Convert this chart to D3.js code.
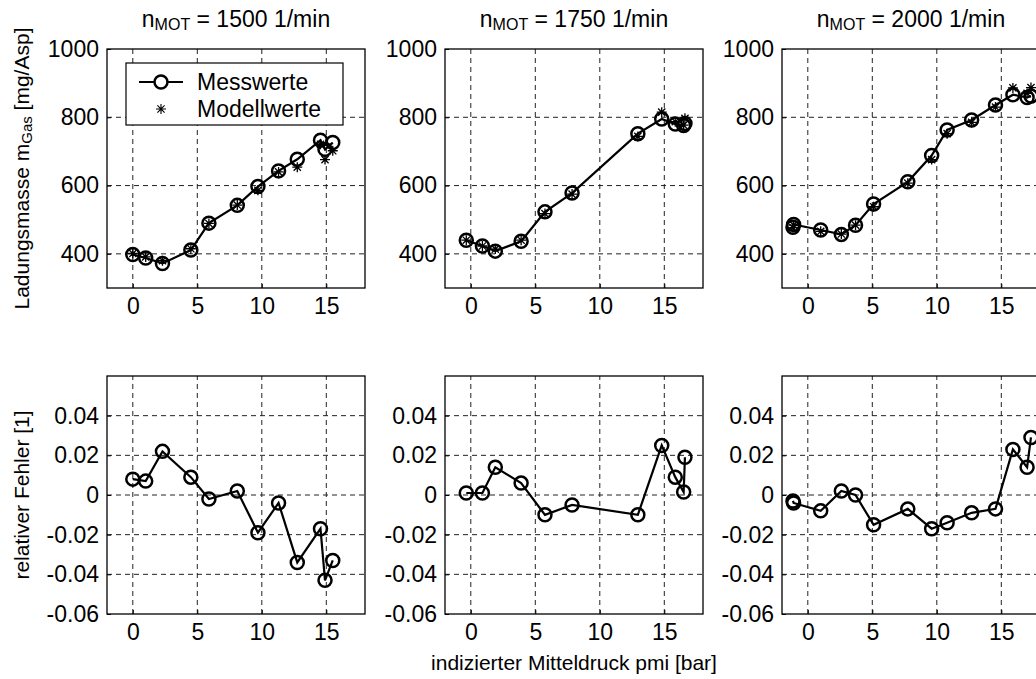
<!DOCTYPE html>
<meta charset="utf-8">
<script src="https://d3js.org/d3.v7.min.js"></script>
<style>
  body { margin: 0; background: #fff; }
  text { font-family: "Liberation Sans", Arial, sans-serif; fill: #000; }
</style>
<div id="my_dataviz"></div>
<script>
// tick values
var xTicks = [0, 5, 10, 15];
var yTicksTop = [400, 600, 800, 1000];
var yTicksBot = [-0.06, -0.04, -0.02, 0, 0.02, 0.04];
var yTickLabelsBot = ["-0.06", "-0.04", "-0.02", "0", "0.02", "0.04"];

// engine speeds (one column per speed)
var speeds = ["1500", "1750", "2000"];

// pmi [bar]
var pmi1500 = [0, 1.0, 2.3, 4.5, 5.9, 8.1, 9.7, 11.3, 12.75, 14.55, 14.9, 15.5];
var pmi1750 = [-0.35, 0.9, 1.9, 3.9, 5.75, 7.85, 12.95, 14.8, 15.85, 16.5, 16.6];
var pmi2000 = [-1.15, -1.1, 1.0, 2.6, 3.7, 5.1, 7.75, 9.6, 10.8, 12.7, 14.55, 15.9, 17.0, 17.3];

// measured charge mass [mg/Asp]
var mess1500 = [398, 388, 372, 411, 490, 542, 597, 643, 677, 733, 706, 726];
var mess1750 = [440, 423, 408, 437, 523, 578, 752, 795, 780, 776, 782];
var mess2000 = [478, 486, 470, 457, 484, 546, 611, 688, 763, 792, 836, 866, 858, 862];

// model charge mass [mg/Asp]
var model1500 = [401, 391, 380, 415, 489, 543, 586, 640, 654, 721, 676, 702];
var model1750 = [440, 423, 414, 440, 518, 575, 744, 815, 787, 777, 797];
var model2000 = [477, 484, 466, 458, 484, 538, 607, 676, 752, 785, 830, 886, 870, 887];

// relative error [1]
var err1500 = [0.008, 0.007, 0.022, 0.009, -0.002, 0.002, -0.019, -0.004, -0.034, -0.017, -0.043, -0.033];
var err1750 = [0.001, 0.001, 0.014, 0.006, -0.010, -0.005, -0.010, 0.025, 0.009, 0.0015, 0.019];
var err2000 = [-0.003, -0.004, -0.008, 0.002, 0.000, -0.015, -0.007, -0.017, -0.014, -0.009, -0.007, 0.023, 0.014, 0.029];

var pmi = [pmi1500, pmi1750, pmi2000];
var mess = [mess1500, mess1750, mess2000];
var model = [model1500, model1750, model2000];
var err = [err1500, err1750, err2000];

var W = 1036, H = 679;
var panelLeft = [107, 445, 782], panelW = 258;
var topRow = [49, 288], botRow = [376, 614];
var fs = 23;

var svg = d3.select("#my_dataviz")
  .append("svg")
    .attr("width", W)
    .attr("height", H);

function starPath(r) {
  var d = r * 0.72;
  return "M0," + (-r) + "V" + r + "M" + (-r) + ",0H" + r +
    "M" + (-d) + "," + (-d) + "L" + d + "," + d + "M" + (-d) + "," + d + "L" + d + "," + (-d);
}

function panel(i, row) {
  var x = d3.scaleLinear().domain([-2, 18]).range([panelLeft[i], panelLeft[i] + panelW]);
  var y = row == 0
    ? d3.scaleLinear().domain([300, 1000]).range([topRow[1], topRow[0]])
    : d3.scaleLinear().domain([-0.06, 0.06]).range([botRow[1], botRow[0]]);
  var yt = row == 0 ? yTicksTop : yTicksBot;
  var y0 = y.range()[0], y1 = y.range()[1];
  var x0 = x.range()[0], x1 = x.range()[1];
  var g = svg.append("g");

  // dashed grid
  g.selectAll(".gx").data(xTicks).enter().append("line")
    .attr("x1", d => x(d)).attr("x2", d => x(d))
    .attr("y1", y0).attr("y2", y1)
    .attr("stroke", "#222").attr("stroke-width", 1).attr("stroke-dasharray", "5,4");
  g.selectAll(".gy").data(yt.filter(d => y(d) > y1 + 1 && y(d) < y0 - 1)).enter().append("line")
    .attr("x1", x0).attr("x2", x1)
    .attr("y1", d => y(d)).attr("y2", d => y(d))
    .attr("stroke", "#222").attr("stroke-width", 1).attr("stroke-dasharray", "5,4");

  // axes with inward ticks
  g.append("g").attr("transform", "translate(0," + y0 + ")")
    .call(d3.axisBottom(x).tickValues(xTicks).tickSizeInner(-4).tickSizeOuter(0).tickPadding(10))
    .call(a => a.select(".domain").remove())
    .selectAll("text").attr("font-size", fs).attr("font-family", "Liberation Sans, Arial");
  g.append("g").attr("transform", "translate(" + x0 + ",0)")
    .call(d3.axisLeft(y).tickValues(yt).tickSizeInner(-4).tickSizeOuter(0).tickPadding(8)
      .tickFormat((d, k) => row == 0 ? d : yTickLabelsBot[k]))
    .call(a => a.select(".domain").remove())
    .selectAll("text").attr("font-size", fs).attr("font-family", "Liberation Sans, Arial");
  g.selectAll(".tick line").attr("stroke", "#000");

  g.append("rect")
    .attr("x", x0).attr("y", y1).attr("width", x1 - x0).attr("height", y0 - y1)
    .attr("fill", "none").attr("stroke", "#000").attr("stroke-width", 1.3);

  var vals = row == 0 ? mess[i] : err[i];
  var pts = pmi[i].map((p, k) => [p, vals[k]]);

  g.append("path")
    .datum(pts)
    .attr("fill", "none").attr("stroke", "#000").attr("stroke-width", 2.2)
    .attr("d", d3.line().x(d => x(d[0])).y(d => y(d[1])));

  g.selectAll(".pt").data(pts).enter().append("circle")
    .attr("cx", d => x(d[0])).attr("cy", d => y(d[1])).attr("r", 6.5)
    .attr("fill", "none").attr("stroke", "#000").attr("stroke-width", 2.5);

  if (row == 0) {
    g.selectAll(".mod").data(pmi[i].map((p, k) => [p, model[i][k]])).enter().append("path")
      .attr("transform", d => "translate(" + x(d[0]) + "," + y(d[1]) + ")")
      .attr("d", starPath(5))
      .attr("fill", "none").attr("stroke", "#000").attr("stroke-width", 1.3);

    // title
    var t = svg.append("text")
      .attr("x", (x0 + x1) / 2).attr("y", 27)
      .attr("text-anchor", "middle").attr("font-size", fs);
    t.append("tspan").text("n");
    t.append("tspan").attr("font-size", 16).attr("dy", 3).text("MOT");
    t.append("tspan").attr("dy", -3).text(" = " + speeds[i] + " 1/min");
  }
}

for (var i = 0; i < 3; i++) { panel(i, 0); panel(i, 1); }

// legend in first panel
var lg = svg.append("g");
lg.append("rect").attr("x", 126).attr("y", 63).attr("width", 217).attr("height", 62)
  .attr("fill", "#fff").attr("stroke", "#000").attr("stroke-width", 1.2);
lg.append("line").attr("x1", 139).attr("x2", 183).attr("y1", 82).attr("y2", 82)
  .attr("stroke", "#000").attr("stroke-width", 2.2);
lg.append("circle").attr("cx", 161).attr("cy", 82).attr("r", 6.5)
  .attr("fill", "#fff").attr("stroke", "#000").attr("stroke-width", 2.5);
lg.append("path").attr("transform", "translate(161,109)").attr("d", starPath(5))
  .attr("fill", "none").attr("stroke", "#000").attr("stroke-width", 1.1);
lg.append("text").attr("x", 197).attr("y", 90).attr("font-size", fs).text("Messwerte");
lg.append("text").attr("x", 197).attr("y", 117).attr("font-size", fs).text("Modellwerte");

// axis labels
var yl = svg.append("text")
  .attr("transform", "translate(29," + (topRow[0] + topRow[1]) / 2 + ") rotate(-90)")
  .attr("text-anchor", "middle").attr("font-size", 21);
yl.append("tspan").text("Ladungsmasse m");
yl.append("tspan").attr("font-size", 15).attr("dy", 3).text("Gas");
yl.append("tspan").attr("dy", -3).text(" [mg/Asp]");

svg.append("text")
  .attr("transform", "translate(29," + (botRow[0] + botRow[1]) / 2 + ") rotate(-90)")
  .attr("text-anchor", "middle").attr("font-size", 21)
  .text("relativer Fehler [1]");

svg.append("text")
  .attr("x", (panelLeft[1] + panelLeft[1] + panelW) / 2).attr("y", 670)
  .attr("text-anchor", "middle").attr("font-size", 21)
  .text("indizierter Mitteldruck pmi [bar]");
</script>
